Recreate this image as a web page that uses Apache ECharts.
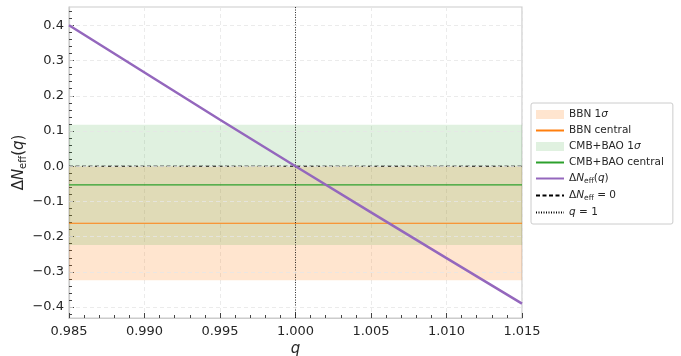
<!DOCTYPE html>
<html>
<head>
<meta charset="utf-8">
<script src="https://cdn.jsdelivr.net/npm/echarts@6/dist/echarts.min.js"></script>
<style>html,body{margin:0;padding:0;background:#fff}#c{width:681px;height:356px}</style>
</head>
<body>
<div id="c"></div>
<script>
// ---- data ----
const qValues = [0.985, 0.990, 0.995, 1.000, 1.005, 1.010, 1.015];
const dNeffValues = [0.400, 0.266, 0.132, 0.000, -0.131, -0.261, -0.390];
const bbnCentral = -0.162;
const bbnSigma = 0.162;
const cmbCentral = -0.053;
const cmbSigma = 0.171;
const zeroLevel = 0;
const qRef = 1;
const xTicks = [0.985, 0.990, 0.995, 1.000, 1.005, 1.010, 1.015];
const yTicks = [-0.4, -0.3, -0.2, -0.1, 0.0, 0.1, 0.2, 0.3, 0.4];
const yMinorTicks = [];
for (let k = -21; k <= 22; k++) yMinorTicks.push(+(k * 0.02).toFixed(2));

const xMin = 0.985, xMax = 1.015, yMin = -0.431, yMax = 0.452;

const lineData = qValues.map((q, i) => [q, dNeffValues[i]]);
const hline = v => [[xMin, v], [xMax, v]];

const FONT = 'DejaVu Sans';
const TXT = '#262626';
const LFS = 10.5;
const rich = {
  i: {fontStyle: 'italic', fontFamily: FONT, fontSize: LFS, color: TXT},
  sub: {fontSize: 7.5, fontFamily: FONT, color: TXT, padding: [5, 0, 0, 0]},
  n: {fontFamily: FONT, fontSize: LFS, color: TXT}
};
const names = {
  bbnBand: 'BBN 1σ', bbnC: 'BBN central', cmbBand: 'CMB+BAO 1σ', cmbC: 'CMB+BAO central',
  dn: 'ΔN(q)', zero: 'ΔN=0', q1: 'q=1'
};
const legendFmt = {
  'BBN 1σ': '{n|BBN 1}{i|σ}',
  'BBN central': '{n|BBN central}',
  'CMB+BAO 1σ': '{n|CMB+BAO 1}{i|σ}',
  'CMB+BAO central': '{n|CMB+BAO central}',
  'ΔN(q)': '{n|Δ}{i|N}{sub|eff}{n|(}{i|q}{n|)}',
  'ΔN=0': '{n|Δ}{i|N}{sub|eff}{n| = 0}',
  'q=1': '{i|q}{n| = 1}'
};

const chart = echarts.init(document.getElementById('c'), null, {renderer: 'canvas'});
chart.setOption({
  animation: false,
  backgroundColor: '#fff',
  grid: {left: 69, right: 159, top: 7, bottom: 38, outerBoundsMode: 'none', containLabel: false,
    show: true, borderColor: '#cccccc', borderWidth: 1.2, backgroundColor: 'transparent'},
  xAxis: {
    type: 'value', min: xMin, max: xMax, interval: 0.005,
    axisLine: {show: true, onZero: false, lineStyle: {color: '#cccccc', width: 1.2}},
    axisTick: {show: true, inside: true, length: 5, lineStyle: {color: '#444', width: 1}},
    minorTick: {show: true, splitNumber: 5, length: 3, lineStyle: {color: '#444', width: 1}},
    splitLine: {show: true, lineStyle: {color: '#e6e6e6', type: [4, 3], width: 0.8}},
    axisLabel: {fontFamily: FONT, fontSize: 13, color: TXT, margin: 7, formatter: v => v.toFixed(3)},
    name: 'q', nameLocation: 'middle', nameGap: 24, nameMoveOverlap: false,
    nameTextStyle: {fontFamily: FONT, fontSize: 15, fontStyle: 'italic', color: TXT}
  },
  yAxis: [{
    type: 'value', min: yMin, max: yMax,
    axisLine: {show: true, onZero: false, lineStyle: {color: '#cccccc', width: 1.2}},
    axisTick: {show: true, inside: true, length: 5, customValues: yTicks, lineStyle: {color: '#444', width: 1}},
    splitLine: {show: false},
    axisLabel: {fontFamily: FONT, fontSize: 13, color: TXT, margin: 5, customValues: yTicks,
      formatter: v => (v < -1e-9 ? '\u2212' + Math.abs(v).toFixed(1) : Math.abs(v).toFixed(1))},
    name: '{n|Δ}{i|N}{sub|eff}{n|(}{i|q}{n|)}', nameLocation: 'middle', nameGap: 41, nameRotate: 90,
    nameMoveOverlap: false,
    nameTextStyle: {rich: {
      n: {fontFamily: FONT, fontSize: 15, color: TXT},
      i: {fontFamily: FONT, fontSize: 15, fontStyle: 'italic', color: TXT},
      sub: {fontFamily: FONT, fontSize: 10, color: TXT, padding: [7, 0, 0, 0]}
    }}
  }, {
    type: 'value', min: yMin, max: yMax, position: 'left',
    axisLine: {show: false, onZero: false},
    axisTick: {show: true, inside: true, length: 3, customValues: yMinorTicks, lineStyle: {color: '#444', width: 1}},
    axisLabel: {show: false}, splitLine: {show: false}
  }],
  legend: {
    orient: 'vertical', left: 531, top: 103, padding: [6, 9, 6, 4], itemGap: 5,
    itemWidth: 28, itemHeight: 9,
    backgroundColor: '#fff', borderColor: '#cccccc', borderWidth: 1, borderRadius: 2,
    itemStyle: {opacity: 0},
    textStyle: {fontFamily: FONT, fontSize: LFS, color: TXT, rich: rich},
    formatter: n => legendFmt[n],
    data: [
      {name: names.bbnBand, icon: 'rect', itemStyle: {color: 'rgba(255,127,14,0.2)', opacity: 1}},
      {name: names.bbnC},
      {name: names.cmbBand, icon: 'rect', itemStyle: {color: 'rgba(44,160,44,0.15)', opacity: 1}},
      {name: names.cmbC},
      {name: names.dn},
      {name: names.zero},
      {name: names.q1}
    ]
  },
  series: [
    {
      name: '_grid', type: 'line', data: [], silent: true, yAxisIndex: 0,
      markLine: {silent: true, symbol: 'none', label: {show: false}, animation: false,
        lineStyle: {color: '#e6e6e6', type: [4, 3], width: 0.8},
        data: yTicks.map(v => ({yAxis: v}))}
    },
    {
      name: names.bbnBand, type: 'line', data: [], color: 'rgba(255,127,14,0.2)',
      markArea: {silent: true, itemStyle: {color: 'rgba(255,127,14,0.2)'},
        data: [[{yAxis: bbnCentral - bbnSigma}, {yAxis: bbnCentral + bbnSigma}]]}
    },
    {
      name: names.bbnC, type: 'line', data: hline(bbnCentral), symbol: 'none', color: '#ff7f0e',
      lineStyle: {color: '#ff7f0e', width: 1.2}
    },
    {
      name: names.cmbBand, type: 'line', data: [], color: 'rgba(44,160,44,0.15)',
      markArea: {silent: true, itemStyle: {color: 'rgba(44,160,44,0.15)'},
        data: [[{yAxis: cmbCentral - cmbSigma}, {yAxis: cmbCentral + cmbSigma}]]}
    },
    {
      name: names.cmbC, type: 'line', data: hline(cmbCentral), symbol: 'none', color: '#2ca02c',
      lineStyle: {color: '#2ca02c', width: 1.2}
    },
    {
      name: names.dn, type: 'line', data: lineData, symbol: 'none', color: '#9467bd', z: 5,
      lineStyle: {color: '#9467bd', width: 2.5}
    },
    {
      name: names.zero, type: 'line', data: hline(zeroLevel), symbol: 'none', color: '#000', z: 4,
      lineStyle: {color: '#000', width: 1, type: [4, 2.5]}
    },
    {
      name: names.q1, type: 'line', data: [[qRef, yMin], [qRef, yMax]], symbol: 'none', color: '#000', z: 4,
      lineStyle: {color: '#000', width: 0.8, type: [1, 1.5]}
    }
  ]
});
</script>
</body>
</html>
